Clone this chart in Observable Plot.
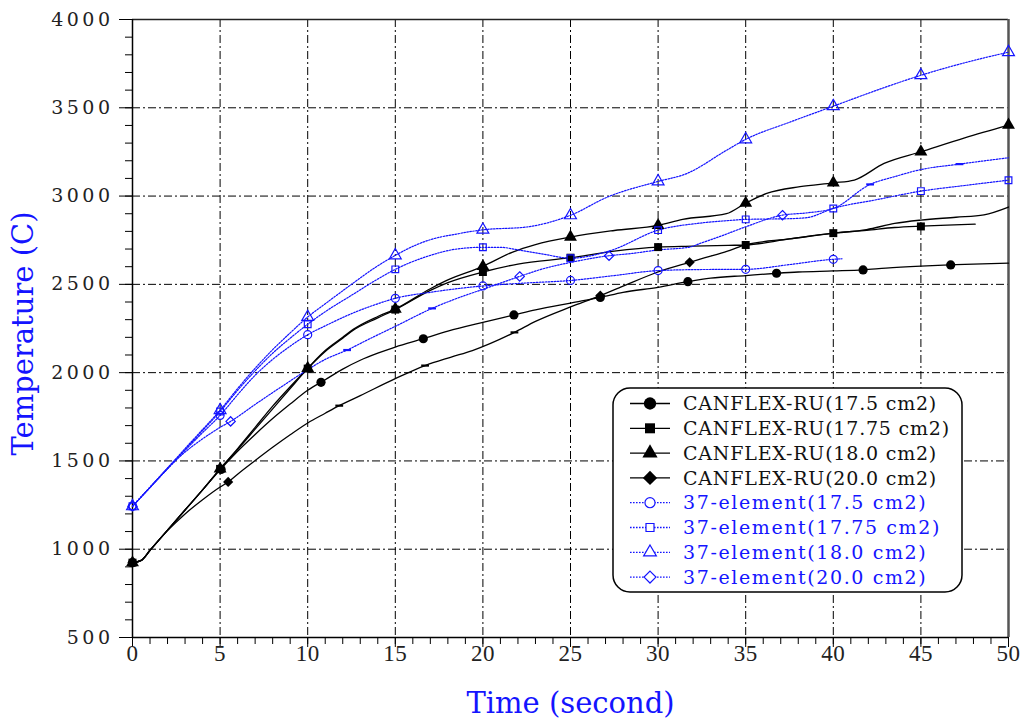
<!DOCTYPE html>
<html><head><meta charset="utf-8">
<script src="https://cdn.jsdelivr.net/npm/d3@7"></script>
<script src="https://cdn.jsdelivr.net/npm/@observablehq/plot@0.6"></script>
<style>
body{margin:0;background:#fff;}
#wrap{position:relative;width:1027px;height:722px;overflow:hidden;}
#chart svg g[aria-label="y-axis tick label"] text{letter-spacing:3.5px;}
#chart svg g[aria-label="x-axis tick label"] text{letter-spacing:0.5px;}
#chart svg g[aria-label="ytitle"] text{letter-spacing:3.6px;}
#chart svg g[aria-label="xtitle"] text{letter-spacing:4.4px;}
#legend{position:absolute;left:611px;top:386px;}
#legend text.k{letter-spacing:0.8px;}
#legend text.b{letter-spacing:1.6px;}
</style></head>
<body><div id="wrap"><div id="chart"></div><svg id="legend" width="354" height="210"></svg></div>
<script>
// ---- axis ticks ----
const xMajorTicks = [0,5,10,15,20,25,30,35,40,45,50];
const xMinorTicks = d3.range(0, 51, 1);
const yMajorTicks = [500,1000,1500,2000,2500,3000,3500,4000];
const yMinorTicks = d3.range(500, 4001, 100);
const xDomain = [0, 50];
const yDomain = [500, 4000];

// ---- series names ----
const seriesNames = [
  "CANFLEX-RU(17.5 cm2)", "CANFLEX-RU(17.75 cm2)", "CANFLEX-RU(18.0 cm2)", "CANFLEX-RU(20.0 cm2)",
  "37-element(17.5 cm2)", "37-element(17.75 cm2)", "37-element(18.0 cm2)", "37-element(20.0 cm2)"
];

// ---- CANFLEX-RU 17.5 ----
const cf175_t = [0,0.5,1,2,3,4,5,6,7,8,9,10,11,12,13,14,15,16.6,18,20,21.8,23,25,26.7,28,30,31.7,33,35,36.8,38,40,41.7,43,45,46.7,48,50];
const cf175_T = [924,937,994,1108,1222,1336,1450,1555,1650,1740,1822,1900,1960,2020,2070,2110,2145,2192,2235,2285,2327,2355,2394,2426,2455,2483,2515,2535,2550,2563,2570,2576,2582,2592,2603,2610,2615,2620];
const cf175_mt = [0,5.06,10.76,16.6,21.77,26.7,31.7,36.76,41.7,46.7];
const cf175_mT = [924,1452,1945,2192,2327,2426,2515,2563,2582,2610];

// ---- CANFLEX-RU 17.75 ----
const cf1775_t = [0,0.5,1,2,3,4,5,6,7,8,9,10,11,12,12.6,14,15,17,18,20,22,25,27.5,30,32,34,35,37.5,40,41.9,43.5,45,46.5,48.1];
const cf1775_T = [924,937,994,1108,1222,1336,1455,1565,1680,1795,1910,2023,2120,2195,2240,2310,2357,2466,2510,2570,2615,2651,2688,2711,2716,2721,2723,2757,2790,2806,2822,2830,2836,2841];
const cf1775_mt = [0,5,10,15,20,25,30,35,40,45];
const cf1775_mT = [924,1455,2023,2357,2570,2651,2711,2723,2790,2828];

// ---- CANFLEX-RU 18.0 ----
const cf18_t = [0,0.5,1,2,3,4,5,6,7,8,9,10,11,12,12.6,14,15,17,18,20,21.7,23,25,27.5,30,31.4,33.9,35,36.2,38.1,40,41.2,42.9,45,47.5,50];
const cf18_T = [924,937,994,1108,1222,1336,1455,1570,1690,1810,1920,2025,2125,2200,2245,2318,2360,2475,2525,2602,2683,2725,2768,2805,2834,2868,2900,2960,3015,3053,3075,3091,3185,3251,3330,3402];
const cf18_mt = [0,5,10,15,20,25,30,35,40,45,50];
const cf18_mT = [924,1455,2025,2360,2602,2768,2834,2960,3075,3251,3402];

// ---- CANFLEX-RU 20.0 ----
const cf20_t = [0,0.5,1,2,3,4,5,5.46,6,7,8,9,10,11,11.8,13,15,16.7,18.15,19.4,21.8,23,25,26.7,28,30,31.8,33,34.1,35,37.5,40,41.9,43.5,45,47,48.6,50];
const cf20_T = [924,937,994,1105,1200,1280,1352,1381,1425,1502,1577,1648,1715,1770,1813,1870,1966,2040,2087,2125,2228,2290,2372,2436,2490,2570,2625,2660,2692,2725,2757,2790,2810,2845,2864,2880,2894,2938];
const cf20_mt = [0,5.46,26.7,31.8];
const cf20_mT = [924,1381,2436,2625];
const cf20_dt = [11.8,16.7,21.8];
const cf20_dT = [1813,2040,2228];

// ---- 37-element 17.5 ----
const e175_t = [0,1,2,3,4,5,6,7,8,9,10,11,12.5,14,15,17,20,22.5,25,27.5,30,32.5,35,37.5,40,40.5];
const e175_T = [1243,1350,1455,1560,1660,1758,1875,1985,2075,2150,2215,2265,2334,2390,2421,2455,2491,2508,2522,2550,2578,2584,2585,2612,2642,2645];
const e175_mt = [0,5,10,15,20,25,30,35,40];
const e175_mT = [1243,1758,2215,2421,2491,2522,2578,2585,2642];

// ---- 37-element 17.75 ----
const e1775_t = [0,1,2,3,4,5,6,7,8,9,10,11,12.5,14,15,17,18.5,20,21,22,23.5,25,27.3,30,32.4,34.1,35,37.5,38.5,40,42.5,45,47.5,50];
const e1775_T = [1243,1350,1458,1565,1672,1780,1900,2010,2110,2195,2274,2345,2438,2530,2585,2664,2700,2710,2710,2695,2670,2648,2692,2807,2847,2862,2868,2872,2878,2930,2980,3028,3060,3090];
const e1775_mt = [0,5,10,15,20,25,30,35,40,45,50];
const e1775_mT = [1243,1780,2274,2585,2710,2648,2807,2868,2930,3028,3090];

// ---- 37-element 18.0 ----
const e18_t = [0,1,2,3,4,5,6,7,8,9,10,11,12.5,14,15,16,17,18.5,20,22.5,25,27.1,30,31.6,33.9,35,37.5,40,42.5,45,47.5,50];
const e18_T = [1243,1352,1460,1570,1678,1787,1910,2025,2130,2225,2315,2390,2500,2605,2664,2715,2753,2785,2809,2825,2891,2994,3083,3126,3259,3321,3418,3509,3600,3684,3755,3815];
const e18_mt = [0,5,10,15,20,25,30,35,40,45,50];
const e18_mT = [1243,1787,2315,2664,2809,2891,3083,3321,3509,3684,3815];

// ---- 37-element 20.0 ----
const e20_t = [0,1,2,3,4,5,5.6,7,8.5,10,11,12.25,13.5,15,17.1,18.5,20,22.1,23.5,25,27.2,28.5,30,31.8,32.4,33.5,35,37.1,38.5,40,42.1,43.5,45,47.2,50];
const e20_T = [1243,1350,1457,1550,1625,1690,1724,1820,1920,2017,2075,2128,2190,2262,2364,2420,2472,2545,2590,2624,2662,2675,2695,2711,2732,2770,2826,2892,2905,2930,3066,3110,3150,3181,3217];
const e20_mt = [0,5.6,22.1,27.2,37.1];
const e20_mT = [1243,1724,2545,2662,2892];
const e20_dt = [12.25,17.1,42.1,47.2];
const e20_dT = [2128,2364,3066,3181];

// ---- styles ----
const black = "#000000";
const blue = "#1414ff";
const blueDash = "1.6,1.4";

const zip = (ts, Ts) => ts.map((t, i) => ({t, T: Ts[i]}));

const dashSymbol = {draw(ctx, size) { const w = Math.sqrt(size) * 0.55; ctx.moveTo(-w, 0); ctx.lineTo(w, 0); }};

const blackLines = [[cf175_t, cf175_T], [cf1775_t, cf1775_T], [cf18_t, cf18_T], [cf20_t, cf20_T]];
const blueLines = [[e175_t, e175_T], [e1775_t, e1775_T], [e18_t, e18_T], [e20_t, e20_T]];

const marks = [
  Plot.gridX(xMajorTicks.filter(d => d > xDomain[0] && d < xDomain[1]), {stroke: black, strokeOpacity: 1, strokeWidth: 1, strokeDasharray: "8,3,2,3"}),
  Plot.gridY(yMajorTicks.filter(d => d > yDomain[0] && d < yDomain[1]), {stroke: black, strokeOpacity: 1, strokeWidth: 1, strokeDasharray: "8,3,2,3"}),
  Plot.ruleY([yDomain[1]], {stroke: "#222", strokeWidth: 1.5}),
  Plot.ruleX([xDomain[1]], {stroke: "#555", strokeWidth: 2.5}),
  Plot.ruleX([xDomain[0]], {stroke: black, strokeWidth: 1.5}),
  Plot.ruleY([yDomain[0]], {stroke: black, strokeWidth: 1.5}),
  Plot.axisX(xMinorTicks, {tickSize: 7, tickFormat: () => "", stroke: black}),
  Plot.axisX(xMajorTicks, {tickSize: 10, tickPadding: -3, tickFormat: d3.format("d"), fontSize: 23, fontFamily: "Liberation Serif", fill: "#222", label: null}),
  Plot.axisY(yMinorTicks, {tickSize: 7, tickFormat: () => "", stroke: black}),
  Plot.axisY(yMajorTicks, {tickSize: 13, tickPadding: 6, tickFormat: d3.format("d"), fontSize: 19, fontFamily: "DejaVu Serif", fill: "#222", label: null}),
  ...blackLines.map(([ts, Ts]) => Plot.line(zip(ts, Ts), {x: "t", y: "T", stroke: black, strokeWidth: 1.3, curve: "monotone-x"})),
  ...blueLines.map(([ts, Ts]) => Plot.line(zip(ts, Ts), {x: "t", y: "T", stroke: blue, strokeWidth: 1.2, strokeDasharray: blueDash, curve: "monotone-x"})),
  Plot.dot(zip(cf175_mt, cf175_mT), {x: "t", y: "T", symbol: "circle", r: 4.6, fill: black}),
  Plot.dot(zip(cf1775_mt, cf1775_mT), {x: "t", y: "T", symbol: "square", r: 4.5, fill: black}),
  Plot.dot(zip(cf18_mt, cf18_mT), {x: "t", y: "T", symbol: "triangle", r: 4.8, fill: black}),
  Plot.dot(zip(cf20_mt, cf20_mT), {x: "t", y: "T", symbol: "diamond2", r: 4.6, fill: black}),
  Plot.dot(zip(cf20_dt, cf20_dT), {x: "t", y: "T", symbol: dashSymbol, r: 4, stroke: black, strokeWidth: 2.2}),
  Plot.dot(zip(e175_mt, e175_mT), {x: "t", y: "T", symbol: "circle", r: 4, fill: "none", stroke: blue, strokeWidth: 1.2}),
  Plot.dot(zip(e1775_mt, e1775_mT), {x: "t", y: "T", symbol: "square", r: 3.8, fill: "none", stroke: blue, strokeWidth: 1.2}),
  Plot.dot(zip(e18_mt, e18_mT), {x: "t", y: "T", symbol: "triangle", r: 4.4, fill: "none", stroke: blue, strokeWidth: 1.2}),
  Plot.dot(zip(e20_mt, e20_mT), {x: "t", y: "T", symbol: "diamond2", r: 4.2, fill: "none", stroke: blue, strokeWidth: 1.2}),
  Plot.dot(zip(e20_dt, e20_dT), {x: "t", y: "T", symbol: dashSymbol, r: 4, stroke: blue, strokeWidth: 2.2}),
  Plot.text(["Temperature (C)"], {frameAnchor: "left", dx: -109, dy: 5, rotate: -90, textAnchor: "middle", lineAnchor: "middle", fill: blue, fontSize: 29, fontFamily: "DejaVu Serif", ariaLabel: "ytitle"}),
  Plot.text(["Time (second)"], {frameAnchor: "bottom", dy: 66, textAnchor: "middle", lineAnchor: "middle", fill: blue, fontSize: 29, fontFamily: "DejaVu Serif", ariaLabel: "xtitle"})
];

const chart = Plot.plot({
  width: 1027, height: 722,
  marginLeft: 132, marginRight: 19, marginTop: 19, marginBottom: 85,
  x: {domain: xDomain, label: null},
  y: {domain: yDomain, label: null},
  style: {fontFamily: "DejaVu Serif", background: "#fff", overflow: "visible"},
  marks
});
document.getElementById("chart").appendChild(chart);

// ---- legend ----
const legendSymbols = [d3.symbolCircle, d3.symbolSquare, d3.symbolTriangle, d3.symbolDiamond2];
const lg = d3.select("#legend");
lg.append("rect").attr("x", 2).attr("y", 2).attr("width", 349).attr("height", 204).attr("rx", 17)
  .attr("fill", "#fff").attr("stroke", "#000").attr("stroke-width", 1.5);
seriesNames.forEach((name, i) => {
  const isBlue = i >= 4;
  const y = 17.5 + i * 24.8;
  const color = isBlue ? blue : black;
  const g = lg.append("g").attr("transform", `translate(0,${y})`);
  g.append("line").attr("x1", 19).attr("x2", 59).attr("y1", 0).attr("y2", 0)
    .attr("stroke", color).attr("stroke-width", 1.3).attr("stroke-dasharray", isBlue ? blueDash : null);
  const sizes = isBlue ? [80, 64, 70, 90] : [120, 100, 100, 130];
  g.append("path").attr("transform", "translate(39,0)")
    .attr("d", d3.symbol(legendSymbols[i % 4], sizes[i % 4])())
    .attr("fill", isBlue ? "#fff" : black).attr("stroke", color).attr("stroke-width", isBlue ? 1.2 : 0);
  g.append("text").attr("class", isBlue ? "b" : "k").attr("x", 72).attr("y", 0).attr("dy", "0.35em")
    .attr("font-family", "DejaVu Serif").attr("font-size", 19).attr("fill", isBlue ? blue : "#111")
    .text(name);
});
</script></body></html>
